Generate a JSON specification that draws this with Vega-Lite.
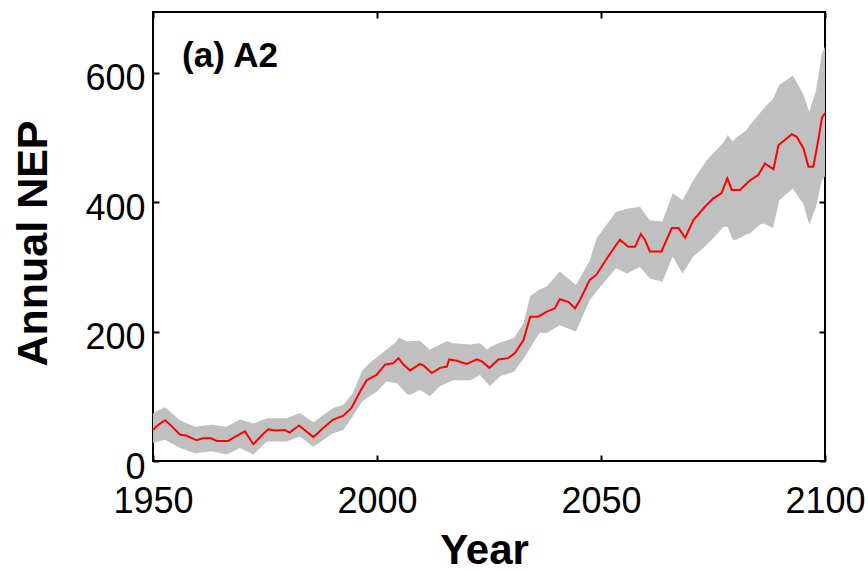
{
  "$schema": "https://vega.github.io/schema/vega-lite/v6.json",
  "width": 672,
  "height": 449,
  "autosize": {"type": "none"},
  "padding": {"left": 153, "top": 12, "right": 43, "bottom": 110},
  "background": "white",
  "config": {
    "view": {"stroke": "black", "strokeWidth": 2},
    "axis": {
      "labelFont": "Liberation Sans", "labelFontSize": 36, "labelColor": "black", "labelFlush": false,
      "titleFont": "Liberation Sans", "titleFontSize": 43, "titleFontWeight": "bold", "titleColor": "black",
      "tickColor": "black", "tickWidth": 2, "tickSize": -6, "domain": false, "grid": false
    }
  },
  "datasets": {
    "band": [
      {"year": 1950, "lo": 28, "hi": 74},
      {"year": 1952.7, "lo": 33, "hi": 83},
      {"year": 1956, "lo": 20, "hi": 63},
      {"year": 1959.4, "lo": 12, "hi": 53},
      {"year": 1963.1, "lo": 15, "hi": 56},
      {"year": 1966.4, "lo": 10, "hi": 53},
      {"year": 1969.4, "lo": 20, "hi": 64},
      {"year": 1972.4, "lo": 10, "hi": 58},
      {"year": 1975.4, "lo": 30, "hi": 66},
      {"year": 1979.8, "lo": 30, "hi": 66},
      {"year": 1982.8, "lo": 38, "hi": 74},
      {"year": 1985.8, "lo": 22, "hi": 60},
      {"year": 1990.2, "lo": 43, "hi": 82},
      {"year": 1992.5, "lo": 48, "hi": 87},
      {"year": 1994.6, "lo": 69, "hi": 105},
      {"year": 1996.7, "lo": 92, "hi": 140},
      {"year": 1998.3, "lo": 100, "hi": 151},
      {"year": 1999.9, "lo": 107, "hi": 160},
      {"year": 2002.1, "lo": 123, "hi": 172},
      {"year": 2004.4, "lo": 120, "hi": 185},
      {"year": 2004.8, "lo": 118, "hi": 191},
      {"year": 2006.6, "lo": 104, "hi": 185},
      {"year": 2007.4, "lo": 102, "hi": 185},
      {"year": 2009.6, "lo": 110, "hi": 186},
      {"year": 2011.8, "lo": 100, "hi": 172},
      {"year": 2014.1, "lo": 116, "hi": 180},
      {"year": 2015.6, "lo": 120, "hi": 185},
      {"year": 2017, "lo": 125, "hi": 182},
      {"year": 2020.8, "lo": 125, "hi": 180},
      {"year": 2023, "lo": 133, "hi": 182},
      {"year": 2024.6, "lo": 120, "hi": 172},
      {"year": 2025.2, "lo": 116, "hi": 176},
      {"year": 2027.5, "lo": 131, "hi": 183},
      {"year": 2030.6, "lo": 138, "hi": 190},
      {"year": 2032.7, "lo": 158, "hi": 213},
      {"year": 2034.2, "lo": 175, "hi": 255},
      {"year": 2036.3, "lo": 198, "hi": 265},
      {"year": 2037.9, "lo": 198, "hi": 270},
      {"year": 2040.8, "lo": 210, "hi": 293},
      {"year": 2044.4, "lo": 200, "hi": 272},
      {"year": 2047.5, "lo": 249, "hi": 310},
      {"year": 2049, "lo": 262, "hi": 344},
      {"year": 2053.3, "lo": 298, "hi": 385},
      {"year": 2055.8, "lo": 290, "hi": 390},
      {"year": 2058.7, "lo": 300, "hi": 393},
      {"year": 2060.9, "lo": 282, "hi": 372},
      {"year": 2063.7, "lo": 277, "hi": 370},
      {"year": 2066, "lo": 316, "hi": 414},
      {"year": 2068.2, "lo": 290, "hi": 403},
      {"year": 2070.6, "lo": 316, "hi": 434},
      {"year": 2073.6, "lo": 334, "hi": 465},
      {"year": 2076.5, "lo": 355, "hi": 486},
      {"year": 2077.3, "lo": 362, "hi": 492},
      {"year": 2078.3, "lo": 362, "hi": 504},
      {"year": 2079.4, "lo": 342, "hi": 494},
      {"year": 2080.2, "lo": 342, "hi": 500},
      {"year": 2082.4, "lo": 350, "hi": 511},
      {"year": 2083.3, "lo": 352, "hi": 520},
      {"year": 2085.4, "lo": 365, "hi": 537},
      {"year": 2086.3, "lo": 367, "hi": 545},
      {"year": 2088.4, "lo": 360, "hi": 560},
      {"year": 2089.8, "lo": 403, "hi": 581},
      {"year": 2092.8, "lo": 421, "hi": 596},
      {"year": 2095.1, "lo": 398, "hi": 568},
      {"year": 2096.5, "lo": 365, "hi": 540},
      {"year": 2098, "lo": 393, "hi": 573},
      {"year": 2099.3, "lo": 434, "hi": 630},
      {"year": 2100, "lo": 440, "hi": 640}
    ],
    "line": [
      {"year": 1950, "nep": 48},
      {"year": 1951, "nep": 55},
      {"year": 1952.7, "nep": 63},
      {"year": 1954, "nep": 55},
      {"year": 1956, "nep": 41},
      {"year": 1957.5, "nep": 39},
      {"year": 1959.7, "nep": 32},
      {"year": 1961.2, "nep": 35},
      {"year": 1963, "nep": 35},
      {"year": 1964.2, "nep": 31},
      {"year": 1966.8, "nep": 31},
      {"year": 1968.7, "nep": 39},
      {"year": 1970.5, "nep": 46},
      {"year": 1972.4, "nep": 26},
      {"year": 1974.2, "nep": 39},
      {"year": 1975.7, "nep": 49},
      {"year": 1977.2, "nep": 47},
      {"year": 1979.4, "nep": 48},
      {"year": 1980.5, "nep": 44},
      {"year": 1982.6, "nep": 55},
      {"year": 1985.8, "nep": 37},
      {"year": 1988, "nep": 51},
      {"year": 1990.2, "nep": 64},
      {"year": 1992.5, "nep": 70},
      {"year": 1994.3, "nep": 82},
      {"year": 1996.2, "nep": 107},
      {"year": 1997.7, "nep": 125},
      {"year": 1999.9, "nep": 133},
      {"year": 2001.8, "nep": 149},
      {"year": 2003.6, "nep": 151},
      {"year": 2004.8, "nep": 159},
      {"year": 2005.9, "nep": 149},
      {"year": 2007.4, "nep": 140},
      {"year": 2009.6, "nep": 150},
      {"year": 2010.5, "nep": 147},
      {"year": 2012.2, "nep": 136},
      {"year": 2014.1, "nep": 144},
      {"year": 2015.6, "nep": 146},
      {"year": 2016.1, "nep": 157},
      {"year": 2017.8, "nep": 155},
      {"year": 2020, "nep": 150},
      {"year": 2022.3, "nep": 157},
      {"year": 2023.4, "nep": 154},
      {"year": 2025.1, "nep": 144},
      {"year": 2027.1, "nep": 157},
      {"year": 2029.3, "nep": 159},
      {"year": 2030.8, "nep": 167},
      {"year": 2032.7, "nep": 187},
      {"year": 2034.2, "nep": 223},
      {"year": 2036, "nep": 223},
      {"year": 2037.9, "nep": 231},
      {"year": 2039.7, "nep": 236},
      {"year": 2040.8, "nep": 250},
      {"year": 2042.7, "nep": 246},
      {"year": 2044.2, "nep": 236},
      {"year": 2045.3, "nep": 249},
      {"year": 2047.5, "nep": 280},
      {"year": 2049, "nep": 288},
      {"year": 2051.6, "nep": 316},
      {"year": 2054.2, "nep": 342},
      {"year": 2056.1, "nep": 331},
      {"year": 2057.6, "nep": 331},
      {"year": 2058.9, "nep": 351},
      {"year": 2059.8, "nep": 342},
      {"year": 2060.9, "nep": 324},
      {"year": 2063.5, "nep": 324},
      {"year": 2065.8, "nep": 360},
      {"year": 2067.3, "nep": 360},
      {"year": 2068.8, "nep": 345},
      {"year": 2070.6, "nep": 372},
      {"year": 2073.2, "nep": 393},
      {"year": 2075.1, "nep": 406},
      {"year": 2076.9, "nep": 414},
      {"year": 2078.2, "nep": 437},
      {"year": 2079.2, "nep": 419},
      {"year": 2081, "nep": 419},
      {"year": 2083.3, "nep": 434},
      {"year": 2085.1, "nep": 442},
      {"year": 2086.6, "nep": 460},
      {"year": 2088.5, "nep": 451},
      {"year": 2089.6, "nep": 488},
      {"year": 2092.6, "nep": 505},
      {"year": 2093.7, "nep": 501},
      {"year": 2095.2, "nep": 483},
      {"year": 2096.3, "nep": 455},
      {"year": 2097.4, "nep": 455},
      {"year": 2098.5, "nep": 496},
      {"year": 2099.3, "nep": 530},
      {"year": 2100, "nep": 538}
    ],
    "label": [
      {"year": 1956.5, "nep": 609, "text": "(a) A2"}
    ]
  },
  "layer": [
    {
      "data": {"name": "band"},
      "mark": {"type": "area", "color": "#c0c0c0", "opacity": 1},
      "encoding": {
        "x": {"field": "year", "type": "quantitative",
              "scale": {"domain": [1950, 2100], "nice": false, "zero": false},
              "axis": {"orient": "bottom", "values": [1950, 2000, 2050, 2100], "format": "d",
                       "title": "Year", "titleFontSize": 42, "labelPadding": 29, "titleX": 331, "titleY": 102, "titleBaseline": "alphabetic"}},
        "y": {"field": "lo", "type": "quantitative",
              "scale": {"domain": [0, 694], "nice": false},
              "axis": {"orient": "left", "values": [0, 200, 400, 600],
                       "title": "Annual NEP", "labelPadding": 14, "labelOffset": 6,
                       "titleX": -107, "titleY": 231, "titleBaseline": "alphabetic"}},
        "y2": {"field": "hi"}
      }
    },
    {
      "data": {"name": "line"},
      "mark": {"type": "line", "color": "#ff0000", "strokeWidth": 2},
      "encoding": {
        "x": {"field": "year", "type": "quantitative",
              "axis": {"orient": "top", "values": [1950, 2000, 2050, 2100], "labels": false, "title": null}},
        "y": {"field": "nep", "type": "quantitative",
              "axis": {"orient": "right", "values": [0, 200, 400, 600], "labels": false, "title": null}}
      }
    },
    {
      "data": {"name": "label"},
      "mark": {"type": "text", "font": "Liberation Sans", "fontSize": 35, "fontWeight": "bold", "align": "left", "baseline": "alphabetic", "color": "black"},
      "encoding": {
        "x": {"field": "year", "type": "quantitative", "axis": null},
        "y": {"field": "nep", "type": "quantitative", "axis": null},
        "text": {"field": "text"}
      }
    }
  ],
  "resolve": {"axis": {"x": "independent", "y": "independent"}}
}
